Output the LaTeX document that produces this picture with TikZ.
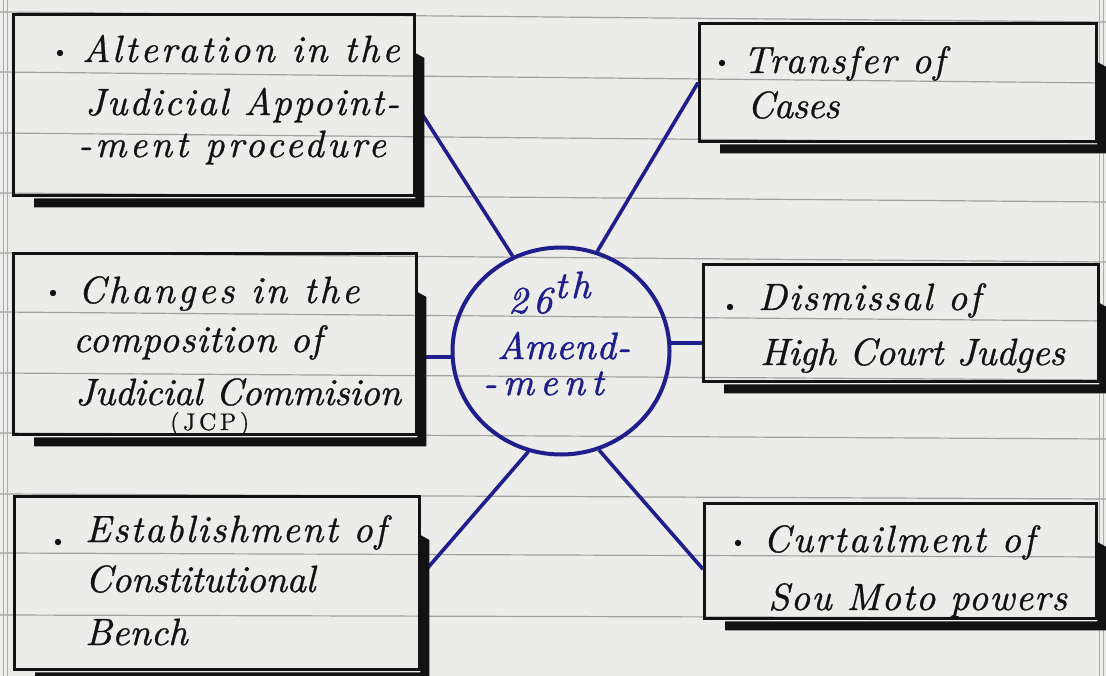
\documentclass[tikz,border=0pt]{standalone}
\usepackage{fontspec}
\usetikzlibrary{shapes.geometric,calc}
\newfontfamily\handit{lmroman10-italic.otf}
\newfontfamily\handup{lmroman10-regular.otf}
\definecolor{ink}{RGB}{30,30,140}
\definecolor{paper}{RGB}{236,236,234}
\definecolor{rulegrey}{RGB}{160,160,160}
\definecolor{marginpink}{RGB}{214,150,172}
\definecolor{pen}{RGB}{18,18,18}
\begin{document}
\begin{tikzpicture}[x=1pt,y=-1pt,
  box/.style={draw=pen, line width=3.4pt, inner sep=0pt, anchor=north west},
  hand/.style={anchor=base west, inner sep=0pt, text=pen,
     font=\fontsize{38}{40}\handit\addfontfeature{LetterSpace=#1,FakeBold=0.8}\selectfont},
  hand/.default=0,
  small/.style={anchor=base west, inner sep=0pt, text=pen,
     font=\fontsize{24}{26}\handup\addfontfeature{LetterSpace=15,FakeBold=0.8}\selectfont},
  hubtext/.style={anchor=base west, inner sep=0pt, text=ink,
     font=\fontsize{38}{40}\handit\addfontfeature{LetterSpace=#1,FakeBold=1.4}\selectfont},
  hubtext/.default=0,
  hub/.style={ellipse, draw=ink, line width=4pt, minimum width=217pt, minimum height=207pt, inner sep=0pt},
  link/.style={draw=ink, line width=3.6pt},
  shade/.style={fill=pen},
  rulestyle/.style={draw=rulegrey, line width=1.2pt},
  marginstyle/.style={draw=marginpink, line width=1pt}]
\useasboundingbox (0,0) rectangle (1106,676);
\fill[paper] (0,0) rectangle (1106,676);
% ruled lines
\foreach \a/\b in {12/22,72/83,133/143,193/202,253/262,312/321,373/380,433/439,494/499,553/557,615/618}
  \draw[rulestyle] (0,\a) -- (1106,\b);
\draw[marginstyle] (3,0) -- (3,676);
\draw[marginstyle] (7,0) -- (7,676);
\draw[marginstyle] (1099,0) -- (1099,676);
\draw[marginstyle] (1103,0) -- (1103,676);

% hub
\node[hub] (hub) at (561,351) {};
\node[hubtext=14] (h1) at (508,313) {26\hspace{2pt}\raisebox{15pt}{t\hspace{4pt}h}};
\node[hubtext=2] (h2) at (497,359) {Amend-};
\node[hubtext=16] (h3) at (483,395) {-ment};

% boxes
\node[box, minimum width=401pt, minimum height=181pt] (tl) at (12,13) {};
\node[box, minimum width=403pt, minimum height=181pt] (ml) at (12,252) {};
\node[box, minimum width=405pt, minimum height=173pt] (bl) at (13,495) {};
\node[box, minimum width=397pt, minimum height=118pt] (tr) at (698,22) {};
\node[box, minimum width=395pt, minimum height=117pt] (mr) at (702,263) {};
\node[box, minimum width=392pt, minimum height=115pt] (br) at (703,502) {};

% connectors
\draw[link] (tl.east) -- (hub.117);
\draw[link] (tr.west) -- (hub.70);
\draw[link] (hub.183) -- (hub.183 -| ml.east);
\draw[link] (hub.4) -- (hub.4 -| mr.west);
\draw[link] ($(bl.east)+(0,-8)$) -- (hub.252);
\draw[link] ($(br.west)+(0,8)$) -- (hub.291);

% shadows
\foreach \n in {tl,ml,bl,tr,mr,br}{
  \fill[shade] ($(\n.north east)+(-1,40)$) -- ($(\n.north east)+(8,45)$) -- ($(\n.south east)+(8,10)$)
     -- ($(\n.south west)+(22,10)$) -- ($(\n.south west)+(22,1)$) -- ($(\n.south east)+(-1,1)$) -- cycle;
}

% bullets
\fill[pen] (60,53) circle (3.2);
\fill[pen] (53,293) circle (3.2);
\fill[pen] (58,542) circle (3.2);
\fill[pen] (722,63) circle (3.2);
\fill[pen] (730,307) circle (3.2);
\fill[pen] (738,543) circle (3.2);

% texts
\node[hand=8] (tl1) at (82,62) {Alteration in the};
\node[hand=5] (tl2) at (85,115) {Judicial Appoint-};
\node[hand=9] (tl3) at (78,157) {-ment procedure};

\node[hand=8] (ml1) at (78,303) {Changes in the};
\node[hand=2] (ml2) at (73,352) {composition of};
\node[hand=-1] (ml3) at (75,405) {Judicial Commision};
\node[small] (ml4) at (170,430) {(JCP)};

\node[hand=5] (bl1) at (85,542) {Establishment of};
\node[hand=-1] (bl2) at (85,592) {Constitutional};
\node[hand] (bl3) at (85,645) {Bench};

\node[hand=5] (tr1) at (743,73) {Transfer of};
\node[hand=-2] (tr2) at (747,118) {Cases};

\node[hand=5] (mr1) at (758,310) {Dismissal of};
\node[hand=-1] (mr2) at (760,365) {High Court Judges};

\node[hand=6] (br1) at (763,552) {Curtailment of};
\node[hand=3] (br2) at (768,610) {Sou Moto powers};
\end{tikzpicture}
\end{document}
